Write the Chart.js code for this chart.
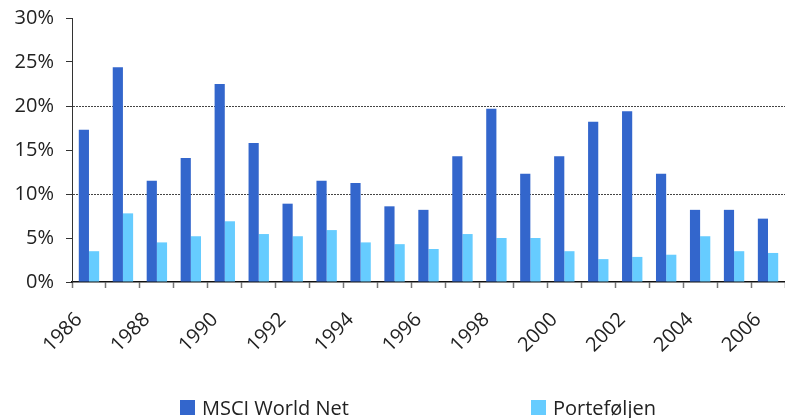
<!DOCTYPE html>
<html lang="no">

<head>
  <meta charset="UTF-8">
  <title>MSCI World Net og Porteføljen</title>
  <script src="https://cdn.jsdelivr.net/npm/chart.js@4.4.1/dist/chart.umd.min.js"></script>
  <style>
    body { margin: 0; background: #fff; }
    #wrap { position: relative; width: 785px; height: 418px; }
    .legend { position: absolute; top: 394px; font: 20px "Open Sans", sans-serif; color: #222; display: flex; align-items: center; }
    .legend span.box { display: inline-block; width: 15px; height: 15px; margin-right: 7px; }
  </style>
</head>

<body>
  <div id="wrap">
    <canvas id="chart" width="785" height="418"></canvas>
    <div class="legend" style="left:180px"><span class="box" style="background:#3366CC"></span>MSCI World Net</div>
    <div class="legend" style="left:531px"><span class="box" style="background:#66CCFF"></span>Porteføljen</div>
  </div>

  <script>
    const years = ['1986', '1987', '1988', '1989', '1990', '1991', '1992', '1993', '1994', '1995', '1996',
      '1997', '1998', '1999', '2000', '2001', '2002', '2003', '2004', '2005', '2006'];
    const msciWorld = [17.3, 24.4, 11.5, 14.1, 22.5, 15.8, 8.9, 11.5, 11.25, 8.6, 8.2,
      14.3, 19.7, 12.3, 14.3, 18.2, 19.4, 12.3, 8.2, 8.2, 7.2];
    const portfolio = [3.5, 7.8, 4.5, 5.2, 6.9, 5.45, 5.2, 5.9, 4.5, 4.3, 3.75,
      5.45, 5.0, 5.0, 3.5, 2.6, 2.85, 3.1, 5.2, 3.5, 3.3];
    const yTicks = [0, 5, 10, 15, 20, 25, 30];
    const dottedLines = [10, 20];

    const font = { family: '"Open Sans", sans-serif', size: 20 };

    const ctx = document.getElementById('chart').getContext('2d');
    const chart = new Chart(ctx, {
      type: 'bar',
      data: {
        labels: years,
        datasets: [
          { label: 'MSCI World Net', data: msciWorld, backgroundColor: '#3366CC' },
          { label: 'Porteføljen', data: portfolio, backgroundColor: '#66CCFF' }
        ]
      },
      options: {
        responsive: false,
        animation: false,
        layout: { padding: { top: 18, right: 0, bottom: 0, left: 0 } },
        datasets: { bar: { barPercentage: 1, categoryPercentage: 0.6 } },
        plugins: {
          legend: { display: false },
          tooltip: { enabled: false }
        },
        scales: {
          x: {
            grid: { offset: true, drawOnChartArea: false, drawTicks: true, tickLength: 6, tickColor: '#777', tickWidth: 1.5 },
            border: { display: true, color: '#111', width: 1.5 },
            ticks: {
              autoSkip: false,
              maxRotation: 45,
              minRotation: 45,
              labelOffset: -10,
              padding: 20,
              color: '#222',
              font: font,
              callback: (v, i) => (i % 2 === 0 ? years[i] : '')
            },
            afterFit: s => { s.height = 136; s.paddingLeft = 0; s.paddingRight = 0; }
          },
          y: {
            min: 0,
            max: 30,
            afterBuildTicks: s => { s.ticks = yTicks.map(v => ({ value: v })); },
            grid: {
              color: c => (dottedLines.includes(c.tick && c.tick.value) ? '#444' : 'rgba(0,0,0,0)'),
              lineWidth: 1,
              drawTicks: true,
              tickLength: 6,
              tickColor: '#333',
              tickBorderDash: []
            },
            border: { display: true, color: '#333', width: 1, dash: [2, 1] },
            ticks: {
              color: '#222',
              font: font,
              padding: 12,
              callback: v => v + '%'
            },
            afterFit: s => { s.width = 72; s.paddingTop = 0; s.paddingBottom = 0; }
          }
        }
      }
    });
  </script>
</body>

</html>
